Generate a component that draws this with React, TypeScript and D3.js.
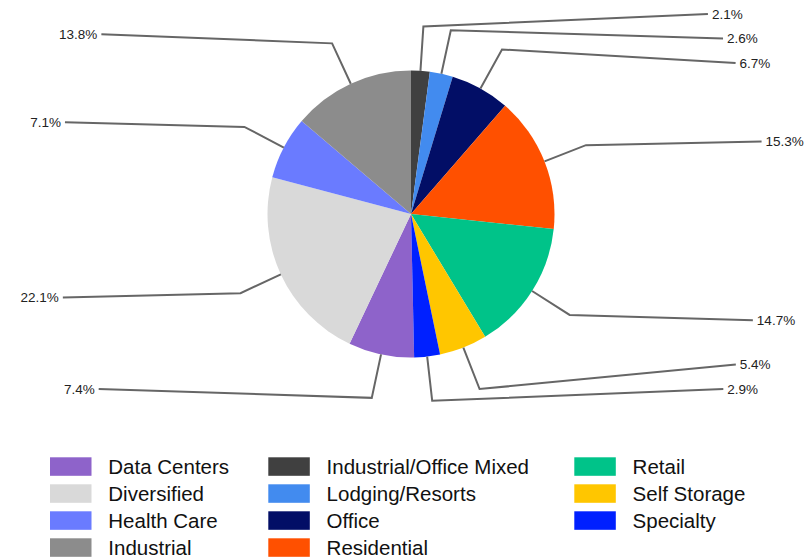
import React from "react";
import * as d3 from "d3";

const categories = [
  "Data Centers",
  "Diversified",
  "Health Care",
  "Industrial",
  "Industrial/Office Mixed",
  "Lodging/Resorts",
  "Office",
  "Residential",
  "Retail",
  "Self Storage",
  "Specialty",
];
const values = [7.4, 22.1, 7.1, 13.8, 2.1, 2.6, 6.7, 15.3, 14.7, 5.4, 2.9];
const colors = [
  "#8e63ca",
  "#d9d9d9",
  "#6a7bff",
  "#8c8c8c",
  "#404040",
  "#428bef",
  "#020e66",
  "#ff5000",
  "#00c389",
  "#ffc600",
  "#0020ff",
];
const firstAtTop = "Industrial/Office Mixed";

const W = 804;
const H = 559;
const CX = 411;
const CY = 214;
const R = 143.5;
const ELBOW_R = 188;
const PREF_R = 198;
const LABEL_R = 358;
const MIN_Y = 14;
const MAX_Y = 389;
const SPACING = 24.5;
const FONT = "'Liberation Sans', Arial, sans-serif";

type Lbl = { i: number; side: number; pref: number; y: number; mid: number };

function placeSide(items: Lbl[]) {
  items.sort((a, b) => a.pref - b.pref);
  type Cl = { items: Lbl[]; top: number };
  let clusters: Cl[] = items.map((it) => ({ items: [it], top: it.pref }));
  const fix = (c: Cl) => {
    const mean = d3.mean(c.items, (d) => d.pref) as number;
    const h = (c.items.length - 1) * SPACING;
    let top = mean - h / 2;
    if (top < MIN_Y) top = MIN_Y;
    if (top + h > MAX_Y) top = MAX_Y - h;
    c.top = top;
  };
  clusters.forEach(fix);
  let changed = true;
  while (changed) {
    changed = false;
    for (let k = 0; k < clusters.length - 1; k++) {
      const a = clusters[k];
      const b = clusters[k + 1];
      const aEnd = a.top + (a.items.length - 1) * SPACING;
      if (b.top - aEnd < SPACING) {
        const m: Cl = { items: a.items.concat(b.items), top: 0 };
        fix(m);
        clusters.splice(k, 2, m);
        changed = true;
        break;
      }
    }
  }
  clusters.forEach((c) => c.items.forEach((it, j) => (it.y = c.top + j * SPACING)));
}

export default function App() {
  const total = d3.sum(values);
  const idx0 = categories.indexOf(firstAtTop);
  const before = d3.sum(values.slice(0, idx0));
  const start = (-2 * Math.PI * before) / total;

  const pie = d3
    .pie<number>()
    .sort(null)
    .value((d) => d)
    .startAngle(start)
    .endAngle(start + 2 * Math.PI);
  const arcs = pie(values);
  const arcGen = d3.arc<d3.PieArcDatum<number>>().innerRadius(0).outerRadius(R);

  const labels: Lbl[] = arcs.map((a, i) => {
    let mid = (a.startAngle + a.endAngle) / 2;
    mid = ((mid % (2 * Math.PI)) + 2 * Math.PI) % (2 * Math.PI);
    const side = Math.sin(mid) >= 0 ? 1 : -1;
    return { i, side, pref: CY - PREF_R * Math.cos(mid), y: 0, mid };
  });
  placeSide(labels.filter((l) => l.side > 0));
  placeSide(labels.filter((l) => l.side < 0));

  const legendCols = [50, 268.3, 574.3];
  const legendRow0 = 457.3;
  const legendRowStep = 27;
  const rows = 4;

  return (
    <svg
      width={W}
      height={H}
      style={{ position: "absolute", left: 0, top: 0, background: "#fff" }}
      fontFamily={FONT}
    >
      <g transform={`translate(${CX},${CY})`}>
        {arcs.map((a, i) => (
          <path key={i} d={arcGen(a) as string} fill={colors[i]} />
        ))}
      </g>
      {labels.map((l) => {
        const s = Math.sin(l.mid);
        const c = Math.cos(l.mid);
        const x0 = CX + R * s;
        const y0 = CY - R * c;
        const x1 = CX + ELBOW_R * s;
        const y1 = CY - ELBOW_R * c;
        const dy = l.y - CY;
        const x2 = CX + l.side * Math.sqrt(Math.max(0, LABEL_R * LABEL_R - dy * dy));
        return (
          <g key={l.i}>
            <polyline
              points={`${x0},${y0} ${x1},${y1} ${x2},${l.y}`}
              fill="none"
              stroke="#666"
              strokeWidth={2}
            />
            <text
              x={x2 + l.side * 4}
              y={l.y}
              dy="0.35em"
              fontSize={13.5}
              fill="#222"
              textAnchor={l.side > 0 ? "start" : "end"}
            >
              {values[l.i].toFixed(1) + "%"}
            </text>
          </g>
        );
      })}
      {categories.map((cat, i) => {
        const col = Math.floor(i / rows);
        const row = i % rows;
        const x = legendCols[col];
        const y = legendRow0 + row * legendRowStep;
        return (
          <g key={cat}>
            <rect x={x} y={y} width={41.5} height={18.5} fill={colors[i]} />
            <text x={x + 58.3} y={y + 9.25} dy="0.35em" fontSize={20.5} fill="#111">
              {cat}
            </text>
          </g>
        );
      })}
    </svg>
  );
}
